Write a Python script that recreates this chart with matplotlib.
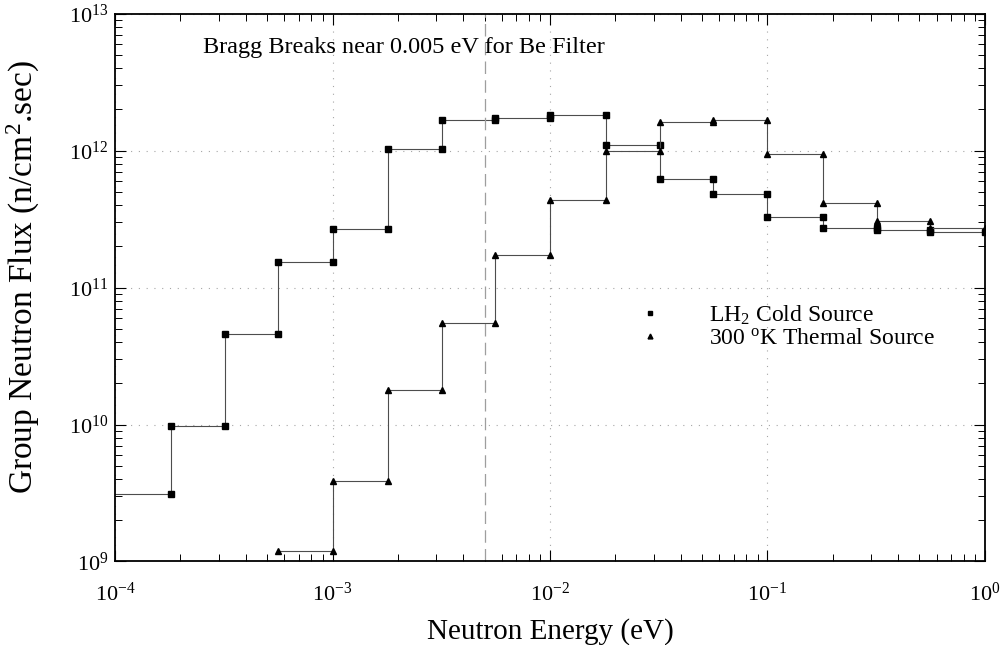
import numpy as np
import matplotlib
matplotlib.use("Agg")
import matplotlib.pyplot as plt

plt.rcParams['font.family'] = ['Liberation Serif', 'DejaVu Serif']
plt.rcParams['mathtext.fontset'] = 'custom'
plt.rcParams['mathtext.rm'] = 'Liberation Serif'
plt.rcParams['mathtext.it'] = 'Liberation Serif:italic'
plt.rcParams['mathtext.bf'] = 'Liberation Serif:bold'

# group boundaries (eV)
edges = [1e-4, 1.8e-4, 3.2e-4, 5.6e-4, 1e-3, 1.8e-3, 3.2e-3, 5.6e-3, 1e-2,
         1.8e-2, 3.2e-2, 5.6e-2, 0.1, 0.18, 0.32, 0.56, 1.0]

# group flux, LH2 cold source (groups 1-16)
cold_flux = [3.1e9, 9.7e9, 4.6e10, 1.54e11, 2.68e11, 1.03e12, 1.66e12, 1.74e12,
             1.83e12, 1.09e12, 6.2e11, 4.8e11, 3.28e11, 2.73e11, 2.62e11, 2.55e11]

# group flux, 300 K thermal source (groups 4-16)
thermal_first = 3
thermal_flux = [1.19e9, 3.85e9, 1.8e10, 5.5e10, 1.72e11, 4.35e11, 9.9e11,
                1.62e12, 1.66e12, 9.5e11, 4.15e11, 3.07e11, 2.72e11]

bragg_energy = 0.005


def steps(e, f):
    # each group drawn as a flat segment between its two boundaries
    x = np.repeat(e, 2)[1:-1]
    y = np.repeat(f, 2)
    return x, y


fig = plt.figure(figsize=(10.02, 6.45), dpi=100)
ax = fig.add_axes([0.1148, 0.1295, 0.8682, 0.8494])

xc, yc = steps(np.array(edges), np.array(cold_flux))
ax.plot(xc, yc, color='0.3', lw=0.8, marker='s', ms=5, mfc='black', mec='black',
        markevery=slice(1, None), label='LH$_2$ Cold Source')

xt, yt = steps(np.array(edges[thermal_first:]), np.array(thermal_flux))
ax.plot(xt, yt, color='0.3', lw=0.8, marker='^', ms=5, mfc='black', mec='black',
        label='300 $^{\\rm o}$K Thermal Source')

ax.axvline(bragg_energy, color='0.62', lw=0.9, dashes=(10, 5))

ax.set_xscale('log')
ax.set_yscale('log')
ax.set_xlim(1e-4, 1.0)
ax.set_ylim(1e9, 1e13)

ax.grid(True, which='major', color='0.65', lw=0.8, linestyle=(0, (1, 6)))
ax.tick_params(which='both', direction='in', top=True, right=True, labelsize=16)
ax.tick_params(which='major', length=8, width=0.8)
ax.tick_params(which='minor', length=5, width=0.7)
ax.tick_params(axis='x', pad=15)
ax.tick_params(axis='y', pad=5)
for s in ax.spines.values():
    s.set_linewidth(1.3)

ax.set_xlabel('Neutron Energy (eV)', fontsize=21)
ax.set_ylabel('Group Neutron Flux (n/cm$^2$.sec)', fontsize=24)
ax.xaxis.set_label_coords(0.501, -0.103)
ax.yaxis.set_label_coords(-0.084, 0.52)

ax.text(0.101, 0.939, 'Bragg Breaks near 0.005 eV for Be Filter',
        transform=ax.transAxes, fontsize=17.5, va='center', ha='left')

leg = ax.legend(loc='upper left', bbox_to_anchor=(0.577, 0.51), frameon=False,
                fontsize=17, handlelength=1.0, handletextpad=2.0,
                labelspacing=0.05, markerscale=0.7)
for h in leg.get_lines():
    h.set_linestyle('none')

fig.savefig('out.png', dpi=100)
